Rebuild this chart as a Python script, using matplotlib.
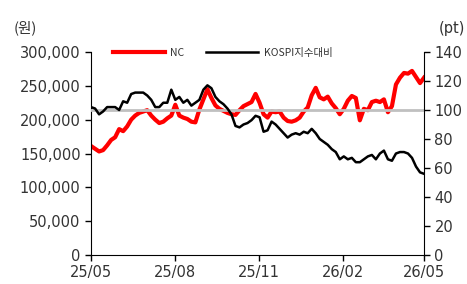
import matplotlib
matplotlib.use("Agg")
import matplotlib.pyplot as plt
import matplotlib.dates as mdates
from matplotlib.ticker import FuncFormatter
import pandas as pd

plt.rcParams['font.family'] = ['DejaVu Sans', 'Noto Sans CJK KR']

# NC 주가 (원), 25/05 ~ 26/05
nc_price = [161000, 157000, 153000, 155000, 162000, 170000, 174000, 186000, 183000, 190000,
            200000, 206000, 210000, 212000, 214000, 206000, 200000, 195000, 197000, 202000,
            206000, 222000, 206000, 203000, 201000, 197000, 196000, 215000, 230000, 245000,
            232000, 221000, 216000, 213000, 210000, 208000, 207000, 214000, 220000, 223000,
            226000, 238000, 225000, 208000, 203000, 212000, 211000, 212000, 203000, 198000,
            197000, 199000, 203000, 212000, 218000, 236000, 247000, 233000, 230000, 234000,
            224000, 217000, 208000, 216000, 228000, 235000, 232000, 199000, 216000, 214000,
            226000, 228000, 226000, 230000, 211000, 220000, 252000, 262000, 269000, 268000,
            272000, 263000, 254000, 262000]

# KOSPI 대비 상대지수 (pt)
kospi_rel = [102, 101, 97, 99, 102, 102, 102, 100, 106, 105,
             111, 112, 112, 112, 110, 107, 102, 102, 105, 105,
             114, 107, 109, 105, 107, 103, 105, 107, 114, 117,
             115, 109, 106, 104, 101, 97, 89, 88, 90, 91,
             93, 96, 95, 85, 86, 92, 90, 87, 84, 81,
             83, 84, 83, 85, 84, 87, 84, 80, 78, 76,
             73, 71, 66, 68, 66, 67, 64, 64, 66, 68,
             69, 66, 70, 72, 66, 65, 70, 71, 71, 70,
             67, 61, 57, 56]

dates = pd.date_range("2025-05-01", "2026-05-01", periods=len(nc_price))
tick_dates = pd.to_datetime(["2025-05-01", "2025-08-01", "2025-11-01", "2026-02-01", "2026-05-01"])

fig = plt.figure(figsize=(4.67, 2.84), dpi=100)
ax1 = fig.add_axes([0.195, 0.102, 0.713, 0.715])
ax2 = ax1.twinx()

ln1, = ax1.plot(dates, nc_price, color="#ff0000", lw=3.0, label="NC", zorder=2)
ax2.axhline(100, color="#c0c0c0", lw=2.0, zorder=1)
ln2, = ax2.plot(dates, kospi_rel, color="#000000", lw=1.8, label="KOSPI지수대비", zorder=3)

ax1.set_xlim(tick_dates[0], tick_dates[-1])
ax1.set_ylim(0, 300000)
ax2.set_ylim(0, 140)
ax1.set_yticks(range(0, 300001, 50000))
ax2.set_yticks(range(0, 141, 20))
ax1.yaxis.set_major_formatter(FuncFormatter(lambda v, p: f"{int(v):,}"))
ax1.set_xticks(tick_dates)
ax1.xaxis.set_major_formatter(mdates.DateFormatter("%y/%m"))

for ax in (ax1, ax2):
    ax.spines['top'].set_visible(False)
    ax.tick_params(direction="out", length=4, width=1, labelsize=10.5, labelcolor="#333333")
    ax.patch.set_visible(False)
ax2.spines['left'].set_visible(False)
ax2.spines['bottom'].set_visible(False)
ax1.spines['right'].set_visible(False)

fig.text(0.03, 0.885, "(원)", fontsize=10.5, color="#333333", family=['Noto Sans CJK KR', 'DejaVu Sans'])
fig.text(0.94, 0.885, "(pt)", fontsize=10.5, color="#333333")

leg = ax1.legend(handles=[ln1, ln2], loc="upper left", ncol=2, frameon=False,
                 bbox_to_anchor=(0.066, 1.02), borderaxespad=0, borderpad=0,
                 handlelength=5.0, columnspacing=2.1, handletextpad=0.5,
                 prop={'family': ['Noto Sans CJK KR', 'DejaVu Sans'], 'size': 7.5})
for t in leg.get_texts():
    t.set_color("#333333")

fig.savefig("out.png", dpi=100)
